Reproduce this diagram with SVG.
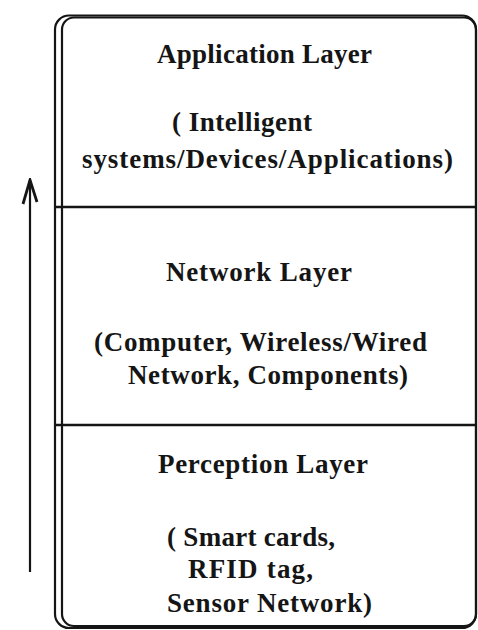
<svg xmlns="http://www.w3.org/2000/svg" width="478" height="630" viewBox="0 0 478 630">
<style>
.frame{fill:none;stroke:#151515;stroke-width:2.2}
.div{stroke:#151515;stroke-width:2.6}
.t{font-family:"Liberation Serif","Times New Roman",serif;font-weight:bold;font-size:27px;fill:#151515}
.conn{fill:none;stroke:#151515;stroke-width:2.2}
</style>
<defs>
<marker id="ah" markerWidth="20" markerHeight="34" refX="10" refY="2" orient="0" markerUnits="userSpaceOnUse" viewBox="0 0 20 34">
<path d="M3,26 L10,2 L17,24" fill="none" stroke="#151515" stroke-width="2.8" stroke-linejoin="miter"/>
</marker>
</defs>
<rect width="478" height="630" fill="#fff"/>
<g id="frame">
<rect class="frame" x="55" y="15.5" width="421" height="612.5" rx="14"/>
<rect class="frame" x="62" y="17.5" width="414" height="608.5" rx="12"/>
</g>
<g id="app-layer">
<rect x="62" y="17" width="414" height="190" fill="none"/>
<text class="t" x="157" y="63" textLength="215" lengthAdjust="spacing">Application Layer</text>
<text class="t" x="172" y="131" textLength="140" lengthAdjust="spacing">( Intelligent</text>
<text class="t" x="82" y="168" textLength="371" lengthAdjust="spacing">systems/Devices/Applications)</text>
</g>
<g id="network-layer">
<line class="div" x1="55" y1="207" x2="477" y2="207"/>
<text class="t" x="166" y="281" textLength="186" lengthAdjust="spacing">Network Layer</text>
<text class="t" x="94" y="351" textLength="333" lengthAdjust="spacing">(Computer, Wireless/Wired</text>
<text class="t" x="128" y="384" textLength="280" lengthAdjust="spacing">Network, Components)</text>
</g>
<g id="perception-layer">
<line class="div" x1="55" y1="425" x2="477" y2="425"/>
<text class="t" x="158" y="473" textLength="210" lengthAdjust="spacing">Perception Layer</text>
<text class="t" x="167" y="546" textLength="168" lengthAdjust="spacing">( Smart cards,</text>
<text class="t" x="188" y="578" textLength="125" lengthAdjust="spacing">RFID tag,</text>
<text class="t" x="167" y="612" textLength="205" lengthAdjust="spacing">Sensor Network)</text>
</g>
<g id="connectors">
<path class="conn" d="M30,572 L30,180" marker-end="url(#ah)"/>
</g>
</svg>
